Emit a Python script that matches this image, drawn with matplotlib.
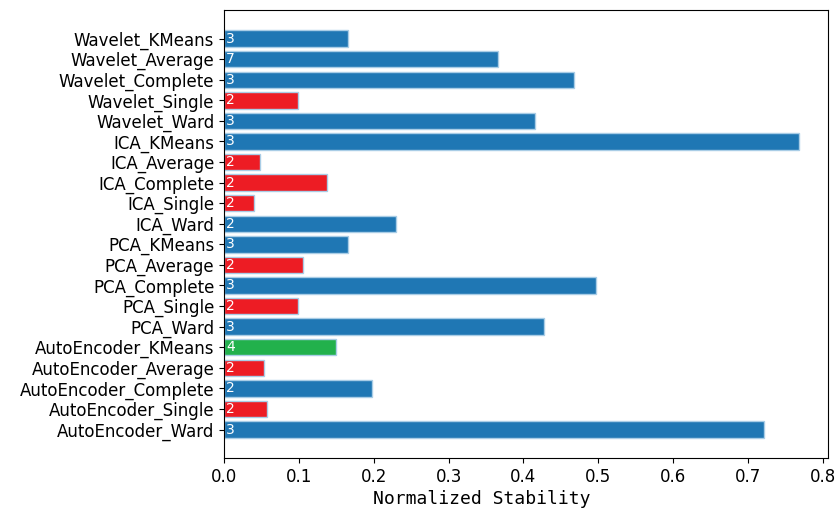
import matplotlib
matplotlib.use("Agg")
import matplotlib.pyplot as plt

categories = [
    "AutoEncoder_Ward", "AutoEncoder_Single", "AutoEncoder_Complete", "AutoEncoder_Average", "AutoEncoder_KMeans",
    "PCA_Ward", "PCA_Single", "PCA_Complete", "PCA_Average", "PCA_KMeans",
    "ICA_Ward", "ICA_Single", "ICA_Complete", "ICA_Average", "ICA_KMeans",
    "Wavelet_Ward", "Wavelet_Single", "Wavelet_Complete", "Wavelet_Average", "Wavelet_KMeans",
]
stability = [
    0.722, 0.058, 0.197, 0.054, 0.150,
    0.428, 0.099, 0.497, 0.106, 0.166,
    0.230, 0.040, 0.137, 0.048, 0.768,
    0.415, 0.099, 0.468, 0.366, 0.166,
]
n_clusters = [
    3, 2, 2, 2, 4,
    3, 2, 3, 2, 3,
    2, 2, 2, 2, 3,
    3, 2, 3, 7, 3,
]
BLUE, RED, GREEN = "#1f77b4", "#ed1c24", "#22b14c"
bar_colors = [
    BLUE, RED, BLUE, RED, GREEN,
    BLUE, RED, BLUE, RED, BLUE,
    BLUE, RED, RED, RED, BLUE,
    BLUE, RED, BLUE, BLUE, BLUE,
]

fig = plt.figure(figsize=(8.36, 5.13), dpi=100)
ax = fig.add_axes([0.268, 0.107, 0.722, 0.8735])
bars = ax.barh(categories, stability, color=bar_colors, edgecolor="#a9cde6", linewidth=1)
for i, (b, n) in enumerate(zip(bars, n_clusters)):
    ax.text(0.003, b.get_y() + b.get_height() / 2, str(n), color="white",
            va="center", ha="left", fontsize=10)
ax.tick_params(axis="y", labelsize=12)
ax.tick_params(axis="x", labelsize=12)
ax.set_xlabel("Normalized Stability", family="DejaVu Sans Mono", fontsize=13, labelpad=3)
ax.xaxis.label.set_x(0.427)
fig.savefig("out.png", dpi=100)
